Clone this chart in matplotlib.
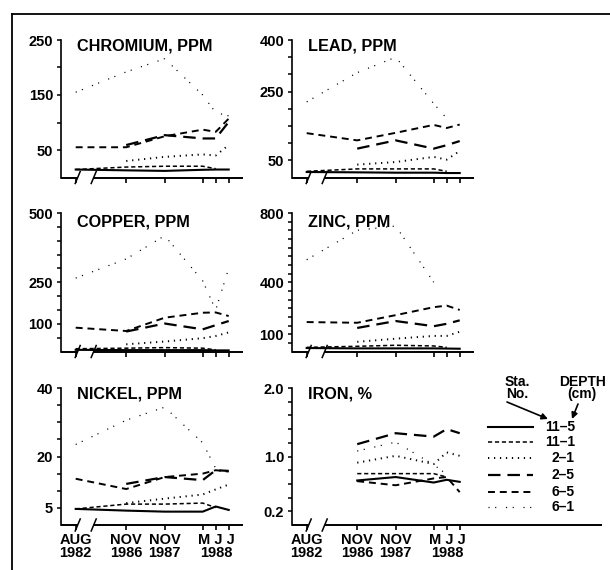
import numpy as np
import matplotlib
matplotlib.use('Agg')
import matplotlib.pyplot as plt
from matplotlib.lines import Line2D
from matplotlib.patches import FancyArrowPatch

plt.rcParams['font.family'] = ['Liberation Sans', 'DejaVu Sans']
plt.rcParams['font.weight'] = 'bold'
plt.rcParams['lines.scale_dashes'] = False

nan = np.nan

# sampling dates along the broken time axis (Aug 1982 ... Jul 1988)
dates = ['AUG\n1982', 'NOV\n1986', 'NOV\n1987', '', '', '']
date_pos = [15, 65.5, 104, 142, 155, 168]
months_1988 = 'M J J\n1988'

# station-depth series, same order in every element table below
stations = ['11-5', '11-1', '2-1', '2-5', '6-5', '6-1']

chromium = [[14.5, 13, 12, 14, 14.5, 14.5],
            [14.5, 19, 20.5, 20.5, 16, nan],
            [nan, 30, 37.5, 42, 40, 59],
            [nan, 59, 77, 71, 71, 101],
            [55, 55, 75, 87, 83, 107],
            [155, 192, 216, 150, 118, 112]]
lead = [[16, 15, 14, 14, 13, 13],
        [18, 25, 25, 25, 18, nan],
        [nan, 37.5, 45, 60, 52, 77],
        [nan, 84, 108, 84, 94, 106],
        [129, 108, 130, 153, 144, 154],
        [220, 305, 350, 215, 172, nan]]
copper = [[6, 5, 5, 5, 4, 4],
          [10, 12, 14, 12, 6, nan],
          [nan, 26, 36, 48, 56, 69],
          [nan, 72, 101, 80, 95, 110],
          [86, 74, 122, 140, 141, 128],
          [265, 334, 418, 255, 150, 300]]
zinc = [[20, 18, 18, 18, 17, 16],
        [24, 30, 36, 32, 24, nan],
        [nan, 56, 74, 90, 90, 114],
        [nan, 136, 176, 146, 160, 180],
        [170, 166, 210, 256, 265, 240],
        [530, 700, 725, 400, nan, nan]]
nickel = [[4.7, 4.2, 3.9, 3.9, 5.4, 4.4],
          [4.7, 6.1, 6.1, 6.4, 5.1, nan],
          [nan, 6.4, 7.7, 8.9, 10.4, 11.8],
          [nan, 12, 14, 13.1, 16, 15.8],
          [13.5, 10.5, 14, 15, 16, 15.6],
          [23.5, 30.6, 34.4, 24, 16.5, nan]]
iron = [[nan, 0.65, 0.70, 0.62, 0.66, 0.63],
        [nan, 0.75, 0.75, 0.75, 0.70, nan],
        [nan, 0.91, 1.01, 0.89, 1.06, 1.01],
        [nan, 1.18, 1.34, 1.29, 1.40, 1.34],
        [nan, 0.64, 0.58, 0.68, 0.70, 0.48],
        [nan, 1.08, 1.21, 0.88, 0.74, nan]]

titles = ['CHROMIUM, PPM', 'LEAD, PPM', 'COPPER, PPM', 'ZINC, PPM', 'NICKEL, PPM', 'IRON, %']
panels = [chromium, lead, copper, zinc, nickel, iron]
ymax = [250, 400, 500, 800, 40, 2.0]
ylabels = [[50, 150, 250], [50, 250, 400], [100, 250, 500],
           [100, 400, 800], [5, 20, 40], [0.2, 1.0, 2.0]]
ystep = [50, 50, 50, 50, 5, 0.2]

styles = [dict(ls='-', lw=1.5),
          dict(ls=(0, (3, 2)), lw=1.1),
          dict(ls=(0, (0.9, 3.4)), lw=1.4),
          dict(ls=(0, (9, 5)), lw=1.6),
          dict(ls=(0, (5, 3.5)), lw=1.4),
          dict(ls=(0, (0.8, 4, 0.8, 7)), lw=0.9)]

W, H = 610, 570
fig = plt.figure(figsize=(W / 100, H / 100), dpi=100)

cols = [60.7, 291.7]
rows = [(40, 177.5), (213, 351.5), (388, 525)]
title_dy = [6.3, 9.2, 6]
brk = [17, 33]

for k in range(6):
    r, c = k // 2, k % 2
    top, bot = rows[r]
    w = 310 if k == 5 else 182
    hpx = bot - top
    ax = fig.add_axes([cols[c] / W, 1 - bot / H, w / W, hpx / H])
    ax.set_xlim(0, w)
    ax.set_ylim(0, ymax[k])
    for series, st in zip(panels[k], styles):
        ax.plot(date_pos, series, color='k', dash_capstyle='butt', **st)

    for s in ['top', 'right', 'bottom']:
        ax.spines[s].set_visible(False)
    ax.spines['left'].set_linewidth(1.2)

    ax.set_yticks(ylabels[k])
    if k == 5:
        ax.set_yticklabels([f'{v:.1f}' for v in ylabels[k]])
    else:
        ax.set_yticklabels([str(v) for v in ylabels[k]])
    ax.set_yticks(np.arange(ystep[k], ymax[k] + ystep[k] / 2, ystep[k]), minor=True)
    ax.tick_params(axis='y', which='both', direction='out', length=3, width=1.1, pad=2.5, labelsize=10.5)

    ax.set_xticks(date_pos)
    ax.tick_params(axis='x', direction='out', length=3.5, width=1.2, pad=2.5, labelsize=10.5)
    tr = ax.get_xaxis_transform()
    if r == 2:
        ax.set_xticklabels(dates, linespacing=0.85, va='top')
        ax.annotate(months_1988, xy=(date_pos[4], 0), xycoords=tr, xytext=(1, -8.4),
                    textcoords='offset pixels', ha='center', va='top', fontsize=10.5,
                    linespacing=0.85, multialignment='center')
    else:
        ax.set_xticklabels([])

    # broken x axis
    ax.plot([0, brk[0]], [0, 0], transform=tr, color='k', lw=1.4, clip_on=False, solid_capstyle='butt')
    ax.plot([brk[1], w], [0, 0], transform=tr, color='k', lw=1.4, clip_on=False, solid_capstyle='butt')
    for bx in brk:
        ax.plot([bx - 2.5, bx + 2.5], [-6 / hpx, 6 / hpx], transform=tr, color='k', lw=1.1, clip_on=False)

    ax.annotate(titles[k], xy=(0, 1), xycoords='axes fraction', xytext=(16, -title_dy[r]),
                textcoords='offset pixels', ha='left', va='center', fontsize=11.7, fontweight='bold')

# legend
def fx(x):
    return x / W


def fy(y):
    return 1 - y / H


fig.text(fx(517), fy(388), 'Sta.\nNo.', ha='center', va='center', fontsize=10,
         linespacing=0.8, multialignment='center')
fig.text(fx(582), fy(388), 'DEPTH\n(cm)', ha='center', va='center', fontsize=10,
         linespacing=0.8, multialignment='center')

leg_y = [426.7, 441.7, 458.3, 475, 491.7, 507.3]
for name, st, y in zip(stations, styles, leg_y):
    fig.add_artist(Line2D([fx(488), fx(533)], [fy(y), fy(y)], color='k', dash_capstyle='butt', **st))
    fig.text(fx(575), fy(y), name.replace('-', '–'), ha='right', va='center', fontsize=10)

for (x0, y0), (x1, y1) in [((507, 402), (548, 419)), ((578, 404), (572, 419))]:
    fig.add_artist(FancyArrowPatch((fx(x0), fy(y0)), (fx(x1), fy(y1)), transform=fig.transFigure,
                                   arrowstyle='-|>', mutation_scale=9, lw=1.2, color='k',
                                   shrinkA=0, shrinkB=0))

# outer frame
fig.add_artist(Line2D([fx(12), fx(12)], [0, fy(14)], color='k', lw=1.3))
fig.add_artist(Line2D([fx(12), 1], [fy(14), fy(14)], color='k', lw=1.3))

fig.savefig('out.png', dpi=100)
